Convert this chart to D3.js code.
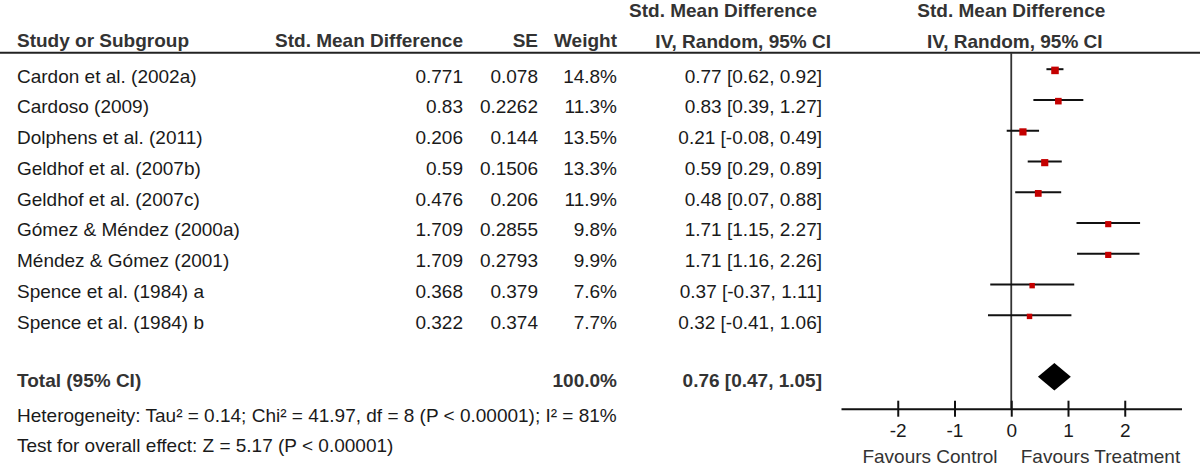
<!DOCTYPE html>
<html>
<head>
<meta charset="utf-8">
<script src="https://cdn.jsdelivr.net/npm/d3@7"></script>
<style>
html,body{margin:0;padding:0;background:#fff;}
svg{display:block;font-family:"Liberation Sans",Arial,Helvetica,sans-serif;}
</style>
</head>
<body>
<svg id="chart" width="1200" height="469"></svg>
<script>
const studies = ["Cardon et al. (2002a)","Cardoso (2009)","Dolphens et al. (2011)","Geldhof et al. (2007b)","Geldhof et al. (2007c)","Gómez & Méndez (2000a)","Méndez & Gómez (2001)","Spence et al. (1984) a","Spence et al. (1984) b"];
const smd = [0.771, 0.83, 0.206, 0.59, 0.476, 1.709, 1.709, 0.368, 0.322];
const se = [0.078, 0.2262, 0.144, 0.1506, 0.206, 0.2855, 0.2793, 0.379, 0.374];
const weights = [14.8, 11.3, 13.5, 13.3, 11.9, 9.8, 9.9, 7.6, 7.7];
const ciLower = [0.62, 0.39, -0.08, 0.29, 0.07, 1.15, 1.16, -0.37, -0.41];
const ciUpper = [0.92, 1.27, 0.49, 0.89, 0.88, 2.27, 2.26, 1.11, 1.06];
const totalEst = 0.76, totalLower = 0.47, totalUpper = 1.05, totalWeight = 100.0;
const xTicks = [-2, -1, 0, 1, 2];
const headers = {
  study: "Study or Subgroup", smd: "Std. Mean Difference", se: "SE", weight: "Weight",
  ci1: "Std. Mean Difference", ci2: "IV, Random, 95% CI",
  plot1: "Std. Mean Difference", plot2: "IV, Random, 95% CI"
};
const totalLabel = "Total (95% CI)";
const heterogeneity = "Heterogeneity: Tau² = 0.14; Chi² = 41.97, df = 8 (P < 0.00001); I² = 81%";
const overall = "Test for overall effect: Z = 5.17 (P < 0.00001)";
const favours = ["Favours Control", "Favours Treatment"];

const svg = d3.select("#chart");
const FS = 19;
const bodyCol = "#1a1a1a", headCol = "#333";

const x = d3.scaleLinear().domain([-3, 3]).range([841, 1181.5]);
const rowY = d3.scaleLinear().domain([0, studies.length - 1]).range([82.7, 328.7]);
const sizeScale = d3.scaleSqrt().domain([0, 15]).range([0, 7.6]);

const colStudy = 17, colSmd = 463, colSe = 538, colW = 617, colCi = 822;

function txt(xp, yp, s, anchor, bold, col) {
  return svg.append("text").attr("x", xp).attr("y", yp).attr("text-anchor", anchor || "start")
    .attr("font-size", FS).attr("font-weight", bold ? "bold" : "normal")
    .attr("fill", col || bodyCol).text(s);
}

// Headers
txt(colStudy, 47, headers.study, "start", true, headCol);
txt(colSmd, 47, headers.smd, "end", true, headCol);
txt(colSe, 47, headers.se, "end", true, headCol);
txt(colW, 47, headers.weight, "end", true, headCol);
txt(817, 16.7, headers.ci1, "end", true, headCol);
txt(831, 47.7, headers.ci2, "end", true, headCol);
txt(1011.3, 16.7, headers.plot1, "middle", true, headCol);
txt(1014.8, 47.7, headers.plot2, "middle", true, headCol);

svg.append("line").attr("x1", 0).attr("x2", 1200).attr("y1", 52.7).attr("y2", 52.7)
  .attr("stroke", "#222").attr("stroke-width", 2);

// Rows
const fmt2 = v => v.toFixed(2);
studies.forEach((s, i) => {
  const y = rowY(i);
  txt(colStudy, y, s, "start");
  txt(colSmd, y, String(smd[i]), "end");
  txt(colSe, y, String(se[i]), "end");
  txt(colW, y, weights[i].toFixed(1) + "%", "end");
  txt(colCi, y, fmt2(smd[i]) + " [" + fmt2(ciLower[i]) + ", " + fmt2(ciUpper[i]) + "]", "end");
});

// Zero line
const axisY = 408.7;
svg.append("line").attr("x1", x(0)).attr("x2", x(0)).attr("y1", 53).attr("y2", axisY)
  .attr("stroke", "#333").attr("stroke-width", 1.8);

// CI lines and markers
const plot = svg.append("g");
studies.forEach((s, i) => {
  const ly = rowY(i) - 13.5;
  plot.append("line").attr("x1", x(ciLower[i])).attr("x2", x(ciUpper[i]))
    .attr("y1", ly).attr("y2", ly).attr("stroke", "#111").attr("stroke-width", 2);
  const sz = sizeScale(weights[i]);
  plot.append("rect").attr("x", x(smd[i]) - sz / 2).attr("y", ly + 1.2 - sz / 2)
    .attr("width", sz).attr("height", sz).attr("fill", "#c40000");
});

// Total row
const totY = 387.3;
txt(colStudy, totY, totalLabel, "start", true, headCol);
txt(colW, totY, totalWeight.toFixed(1) + "%", "end", true, headCol);
txt(colCi, totY, fmt2(totalEst) + " [" + fmt2(totalLower) + ", " + fmt2(totalUpper) + "]", "end", true, headCol);
const dy = 376.8, dh = 13.7;
svg.append("path")
  .attr("d", `M${x(totalLower)},${dy} L${x(totalEst)},${dy - dh} L${x(totalUpper)},${dy} L${x(totalEst)},${dy + dh} Z`)
  .attr("fill", "#000");

txt(colStudy, 421.7, heterogeneity, "start");
txt(colStudy, 452.3, overall, "start");

// Axis
const axis = d3.axisBottom(x).tickValues(xTicks).tickFormat(d => String(d))
  .tickSizeInner(8).tickSizeOuter(0).tickPadding(0);
const ag = svg.append("g").attr("transform", `translate(0,${axisY})`).call(axis);
ag.select(".domain").attr("stroke", "#111").attr("stroke-width", 2);
ag.selectAll(".tick line").attr("y1", -8).attr("y2", 8).attr("stroke", "#111").attr("stroke-width", 2);
ag.selectAll(".tick text").attr("y", 28.6).attr("dy", null).attr("font-size", FS)
  .attr("fill", bodyCol).attr("font-family", "Liberation Sans, Arial, sans-serif");

txt(930, 462.7, favours[0], "middle", false, "#333");
txt(1100.5, 462.7, favours[1], "middle", false, "#333");
</script>
</body>
</html>
